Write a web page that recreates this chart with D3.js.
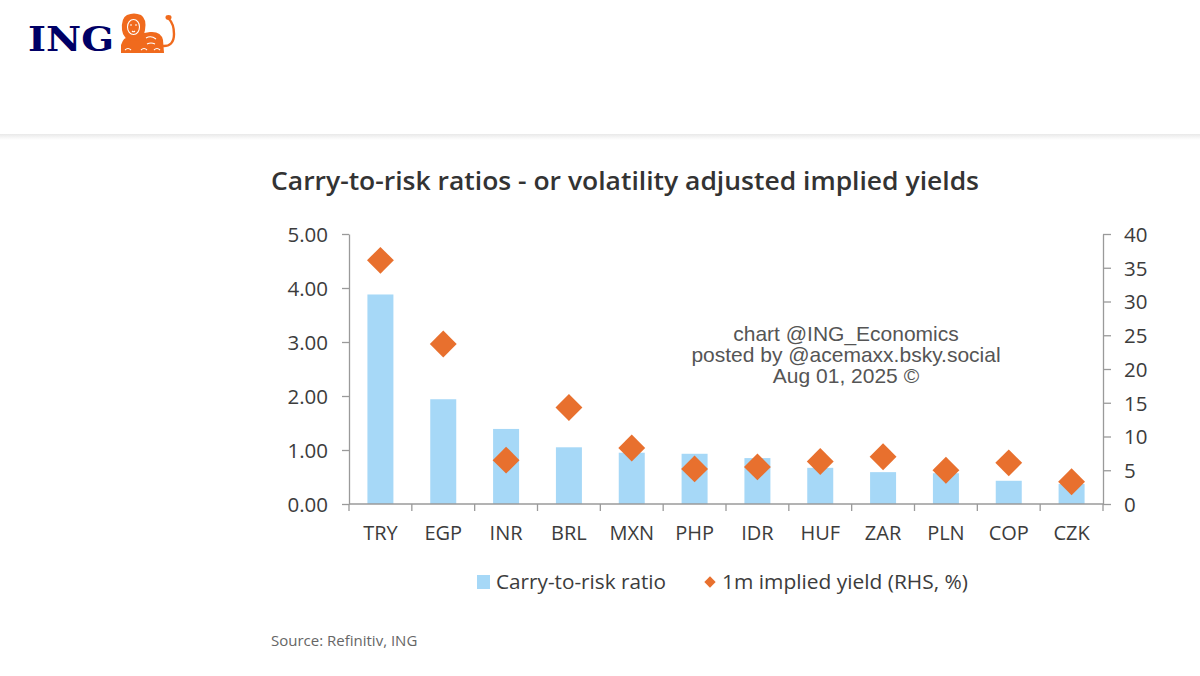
<!DOCTYPE html>
<html>
<head>
<meta charset="utf-8">
<title>Carry-to-risk ratios</title>
<script src="https://d3js.org/d3.v7.min.js"></script>
<style>
  body { margin: 0; background: #fff; }
  svg { display: block; }
</style>
</head>
<body>
<div id="chart"></div>
<script>
// data
const categories = ["TRY", "EGP", "INR", "BRL", "MXN", "PHP", "IDR", "HUF", "ZAR", "PLN", "COP", "CZK"];
const carryToRisk = [3.88, 1.94, 1.39, 1.05, 0.95, 0.93, 0.85, 0.67, 0.59, 0.57, 0.43, 0.37];
const impliedYield = [36.1, 23.7, 6.5, 14.3, 8.3, 5.2, 5.5, 6.3, 7.0, 5.0, 6.1, 3.3];
const leftTicks = [0, 1, 2, 3, 4, 5];
const rightTicks = [0, 5, 10, 15, 20, 25, 30, 35, 40];

const width = 1200, height = 676;
const plot = {left: 349, right: 1103, top: 234, bottom: 504};

const barColor = "#a6d8f7";
const dotColor = "#e8702e";
const axisColor = "#9a9a9a";
const textColor = "#3c3c3c";
const uiFont = "'Open Sans', 'Noto Sans', sans-serif";

const svg = d3.select("#chart").append("svg")
    .attr("width", width)
    .attr("height", height);

svg.append("rect").attr("width", width).attr("height", height).attr("fill", "#fff");

//  header: logo + soft divider
const defs = svg.append("defs");
const grad = defs.append("linearGradient").attr("id", "shadow").attr("x1", 0).attr("x2", 0).attr("y1", 0).attr("y2", 1);
grad.append("stop").attr("offset", "0%").attr("stop-color", "#e9e9e9");
grad.append("stop").attr("offset", "100%").attr("stop-color", "#ffffff");
svg.append("rect").attr("x", 0).attr("y", 134).attr("width", width).attr("height", 6).attr("fill", "url(#shadow)");

svg.append("text")
    .attr("x", 28).attr("y", 51)
    .attr("font-family", "'DejaVu Serif', 'Liberation Serif', serif")
    .attr("font-weight", "bold")
    .attr("font-size", 34)
    .attr("fill", "#000066")
    .attr("textLength", 86)
    .attr("lengthAdjust", "spacingAndGlyphs")
    .text("ING");

//  a rough crouching lion
const orange = "#f06a1d";
const lion = svg.append("g").attr("fill", orange);
lion.append("path")  // body + legs
    .attr("d", "M121,53 L121,45 Q123,37 133,35 L150,32 Q161,31 163,40 L164,53 Z");
lion.append("path")  // mane
    .attr("d", "M122,30 Q121,18 127,15 Q134,12 141,15 Q147,19 145,30 Q144,40 134,41 Q123,40 122,30 Z");
lion.append("path")  // tail
    .attr("d", "M162,46 Q174,47 174,34 Q174,24 169,19")
    .attr("fill", "none").attr("stroke", orange).attr("stroke-width", 2.4);
lion.append("ellipse").attr("cx", 168.5).attr("cy", 17.5).attr("rx", 3).attr("ry", 2.4);
const lionMarks = svg.append("g").attr("fill", "none").attr("stroke", "#fff").attr("stroke-width", 1.1);
lionMarks.append("ellipse").attr("cx", 133.5).attr("cy", 27).attr("rx", 6).attr("ry", 7.5);
lionMarks.append("path").attr("d", "M130,25 h2 M135,25 h2 M132,31 q1.5,1.5 3,0");
lionMarks.append("path").attr("d", "M125,50 q3,-3 6,0 M141,50 q3,-3 6,0 M154,50 q3,-3 6,0 M146,38 q5,-3 10,1 M147,44 q4,-2 8,0");

//  title
svg.append("text")
    .attr("x", 271).attr("y", 190)
    .attr("font-family", uiFont)
    .attr("font-weight", 600)
    .attr("font-size", 25)
    .attr("fill", "#333")
    .attr("textLength", 708)
    .attr("lengthAdjust", "spacingAndGlyphs")
    .text("Carry-to-risk ratios - or volatility adjusted implied yields");

//  scales
const x = d3.scaleBand().domain(categories).range([plot.left, plot.right]).paddingInner(0).paddingOuter(0);
const yL = d3.scaleLinear().domain([0, 5]).range([plot.bottom, plot.top]);
const yR = d3.scaleLinear().domain([0, 40]).range([plot.bottom, plot.top]);

//  bars
const barW = 26;
svg.append("g").selectAll("rect")
    .data(categories)
    .join("rect")
    .attr("x", d => x(d) + x.bandwidth() / 2 - barW / 2)
    .attr("y", (d, i) => yL(carryToRisk[i]))
    .attr("width", barW)
    .attr("height", (d, i) => yL(0) - yL(carryToRisk[i]))
    .attr("fill", barColor);

//  axes
function styleAxis(g) {
    g.selectAll("path.domain").attr("stroke", axisColor).attr("stroke-width", 1.3);
    g.selectAll(".tick line").attr("stroke", axisColor).attr("stroke-width", 1.3);
    g.selectAll(".tick text")
        .attr("fill", textColor)
        .attr("font-family", uiFont)
        .attr("font-size", 20.5);
}

svg.append("g")
    .attr("transform", `translate(${plot.left},0)`)
    .call(d3.axisLeft(yL).tickValues(leftTicks).tickFormat(d3.format(".2f")).tickSizeInner(7).tickSizeOuter(0).tickPadding(14))
    .call(styleAxis)
    .call(g => g.selectAll(".tick text").attr("dy", "0.36em"));

svg.append("g")
    .attr("transform", `translate(${plot.right},0)`)
    .call(d3.axisRight(yR).tickValues(rightTicks).tickSizeInner(8).tickSizeOuter(0).tickPadding(13))
    .call(styleAxis)
    .call(g => g.selectAll(".tick text").attr("dy", "0.36em"));

//  x axis: ticks on band boundaries, labels centred
const xAxis = svg.append("g").attr("transform", `translate(0,${plot.bottom})`);
xAxis.append("line")
    .attr("x1", plot.left).attr("x2", plot.right)
    .attr("stroke", axisColor).attr("stroke-width", 1.3);
const bounds = categories.map(d => x(d)).concat([plot.right]);
xAxis.selectAll("line.tk")
    .data(bounds)
    .join("line")
    .attr("class", "tk")
    .attr("x1", d => d).attr("x2", d => d)
    .attr("y1", 0).attr("y2", 7)
    .attr("stroke", axisColor).attr("stroke-width", 1.3);
xAxis.selectAll("text")
    .data(categories)
    .join("text")
    .attr("x", d => x(d) + x.bandwidth() / 2)
    .attr("y", 36)
    .attr("text-anchor", "middle")
    .attr("font-family", uiFont)
    .attr("font-size", 20)
    .attr("fill", textColor)
    .text(d => d);

//  diamonds
const dSize = 19;
svg.append("g").selectAll("rect")
    .data(categories)
    .join("rect")
    .attr("x", -dSize / 2).attr("y", -dSize / 2)
    .attr("width", dSize).attr("height", dSize)
    .attr("transform", (d, i) => `translate(${x(d) + x.bandwidth() / 2},${yR(impliedYield[i])}) rotate(45)`)
    .attr("fill", dotColor);

//  watermark
const wm = svg.append("g")
    .attr("font-family", "'Liberation Sans', Arial, sans-serif")
    .attr("font-size", 21)
    .attr("fill", "#555")
    .attr("text-anchor", "middle");
["chart @ING_Economics", "posted by @acemaxx.bsky.social", "Aug 01, 2025 \u00a9"].forEach((t, i) => {
    wm.append("text").attr("x", 846).attr("y", 341 + i * 21).text(t);
});

//  legend
const legend = svg.append("g").attr("font-family", uiFont).attr("font-size", 20).attr("fill", textColor);
legend.append("rect").attr("x", 477).attr("y", 575).attr("width", 13).attr("height", 14).attr("fill", barColor);
legend.append("text").attr("x", 496).attr("y", 589)
    .attr("textLength", 170).attr("lengthAdjust", "spacingAndGlyphs")
    .text("Carry-to-risk ratio");
legend.append("rect").attr("x", -4).attr("y", -4).attr("width", 8).attr("height", 8)
    .attr("transform", "translate(710,582) rotate(45)").attr("fill", dotColor);
legend.append("text").attr("x", 722).attr("y", 589)
    .attr("textLength", 246).attr("lengthAdjust", "spacingAndGlyphs")
    .text("1m implied yield (RHS, %)");

//  source
svg.append("text")
    .attr("x", 271).attr("y", 646)
    .attr("font-family", uiFont)
    .attr("font-size", 15)
    .attr("fill", "#666")
    .text("Source: Refinitiv, ING");
</script>
</body>
</html>
